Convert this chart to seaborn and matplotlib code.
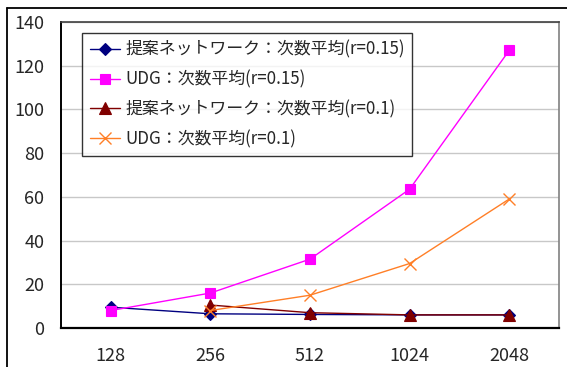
import matplotlib
matplotlib.use("Agg")
import matplotlib.pyplot as plt
from matplotlib.lines import Line2D
from matplotlib.ticker import FixedLocator
import seaborn as sns
import numpy as np

# Node counts on the x axis (categorical)
node_counts = ["128", "256", "512", "1024", "2048"]

# Average degree for each network
proposed_r015 = [9.5, 6.5, 6.2, 6.0, 6.0]
udg_r015 = [8.0, 16.0, 31.5, 63.5, 127.0]
proposed_r01 = [np.nan, 10.5, 7.0, 6.0, 6.0]
udg_r01 = [np.nan, 8.0, 15.0, 29.5, 59.0]

series_labels = [
    "提案ネットワーク：次数平均(r=0.15)",
    "UDG：次数平均(r=0.15)",
    "提案ネットワーク：次数平均(r=0.1)",
    "UDG：次数平均(r=0.1)",
]

sns.set_style("white")
plt.rcParams["font.family"] = ["Noto Sans CJK JP", "DejaVu Sans"]

fig = plt.figure(figsize=(5.67, 3.67), dpi=100)
W, H = 567, 367
ax = fig.add_axes([61 / W, 1 - 328 / H, (559 - 61) / W, (328 - 22) / H])

pos = np.arange(len(node_counts))
styles = [
    dict(color="#000080", marker="D", markersize=6),
    dict(color="#FF00FF", marker="s", markersize=7.5),
    dict(color="#800000", marker="^", markersize=8),
    dict(color="#FF7F27", marker="x", markersize=8, markeredgewidth=1.0),
]
for vals, lab, st in zip([proposed_r015, udg_r015, proposed_r01, udg_r01], series_labels, styles):
    v = np.asarray(vals, dtype=float)
    ok = ~np.isnan(v)
    sns.lineplot(x=pos[ok], y=v[ok], ax=ax, label=lab, linewidth=1.0,
                 color=st["color"], marker=st["marker"], markersize=st["markersize"],
                 markeredgecolor=st["color"], markeredgewidth=st.get("markeredgewidth", 0.8))

ax.set_xlim(-0.5, 4.5)
ax.set_ylim(0, 140)
ax.set_yticks(np.arange(0, 141, 20))
ax.set_xticks(pos)
ax.set_xticklabels(node_counts)
ax.xaxis.set_minor_locator(FixedLocator([0.5, 1.5, 2.5, 3.5]))
ax.tick_params(axis="x", which="major", length=0, pad=14, labelsize=13)
ax.tick_params(axis="x", which="minor", direction="in", length=6, width=1, color="#222222")
ax.tick_params(axis="y", which="major", direction="in", length=6, width=1, color="#222222",
               pad=12, labelsize=13)
ax.grid(axis="y", color="#c8c8c8", linewidth=1.0)
ax.set_axisbelow(True)

for side, col, lw in [("left", "#000000", 1.4), ("bottom", "#000000", 1.6),
                      ("top", "#404040", 1.2), ("right", "#808080", 1.2)]:
    ax.spines[side].set_visible(True)
    ax.spines[side].set_color(col)
    ax.spines[side].set_linewidth(lw)

leg = ax.legend(loc="upper left", bbox_to_anchor=(21 / 498, (328 - 33) / 306),
                borderaxespad=0, frameon=True, fancybox=False, fontsize=12.2,
                handlelength=1.8, handletextpad=0.3, labelspacing=0.68,
                borderpad=0.45)
leg.get_frame().set_edgecolor("#000000")
leg.get_frame().set_linewidth(1.0)

# Outer chart border (left and top edges)
fig.add_artist(Line2D([7 / W, 7 / W], [0, 1 - 8 / H], transform=fig.transFigure,
                      color="#000000", linewidth=1.3))
fig.add_artist(Line2D([7 / W, 1], [1 - 8 / H, 1 - 8 / H], transform=fig.transFigure,
                      color="#000000", linewidth=1.3))

fig.savefig("out.png", dpi=100)
